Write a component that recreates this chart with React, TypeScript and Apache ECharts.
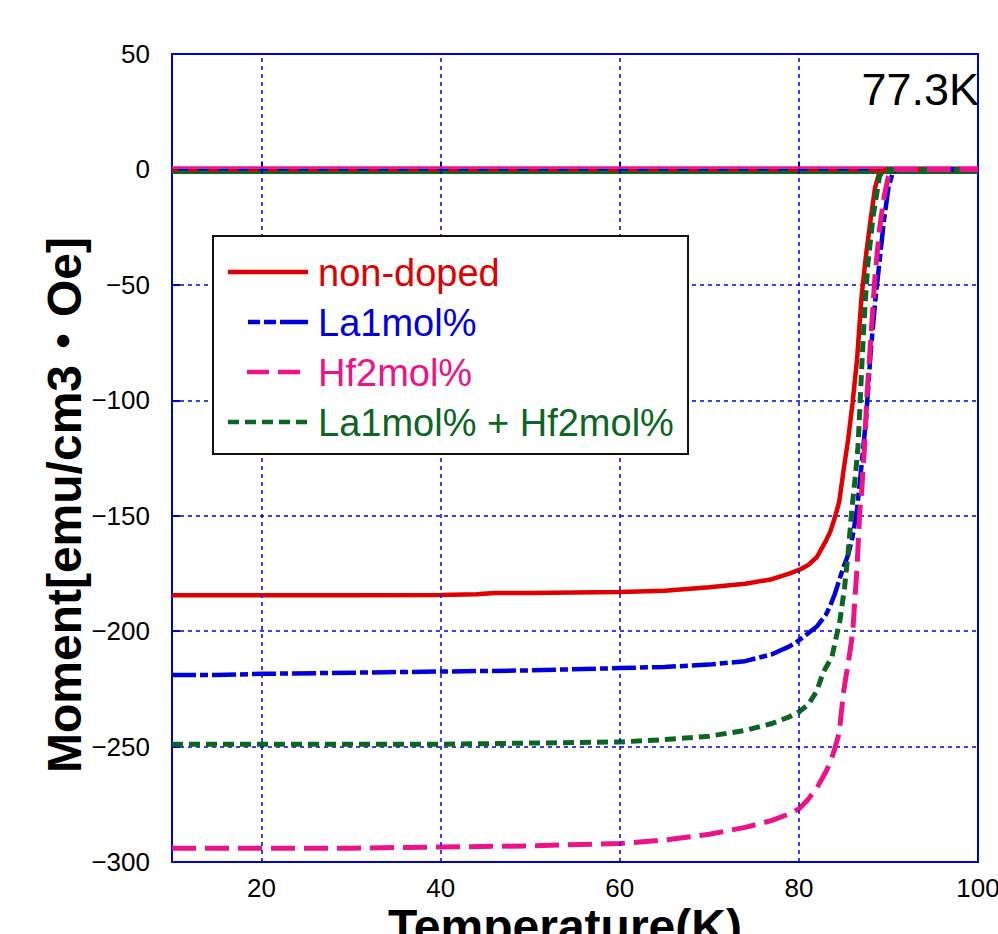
import React, { useEffect, useRef } from "react";
import * as echarts from "echarts";

const FONT = "'Liberation Sans', 'Noto Sans CJK JP', sans-serif";

const seriesNames = ["non-doped", "La1mol%", "Hf2mol%", "La1mol% + Hf2mol%"];
const colors = ["#e00000", "#0000dd", "#ee1289", "#0b6623"];

const tempNonDoped = [10, 20, 30, 40, 44, 46, 50, 60, 65, 70, 74, 77, 79, 80, 81, 82, 83, 83.5, 84, 84.5, 85, 85.5, 86, 86.5, 87, 87.5, 88, 88.5, 89, 90, 100];
const momentNonDoped = [-184.5, -184.5, -184.5, -184.3, -184, -183.5, -183.5, -183, -182.5, -181, -179.5, -177.5, -175, -173.5, -171.5, -168, -161, -157, -151, -144, -130, -117, -101, -82, -55, -37, -22, -8, -1, 0, 0];

const tempLa = [10, 15, 20, 30, 40, 50, 60, 65, 70, 74, 77, 79, 80, 81, 82, 83, 83.5, 84, 84.5, 85, 85.5, 86, 86.5, 87, 87.5, 88, 88.5, 89, 89.5, 90, 90.5, 91, 100];
const momentLa = [-219, -219, -218.5, -218, -217.5, -217, -216, -215.5, -214.5, -213, -210, -206.5, -204, -201, -198, -193, -189, -184, -178, -172, -167, -159, -147, -128, -108, -80, -58, -40, -22, -8, -1, 0, 0];

const tempHf = [10, 20, 30, 40, 50, 60, 65, 70, 74, 77, 79, 80, 81, 82, 83, 83.5, 84, 84.5, 85, 85.5, 86, 86.5, 86.8, 87, 87.3, 87.6, 88, 88.5, 89, 89.5, 90, 90.5, 100];
const momentHf = [-294, -294, -294, -293.5, -293, -292, -290.5, -288, -285, -282, -279, -277, -273, -268, -261, -257, -251, -244, -226, -214, -201, -172, -148, -140, -122, -98, -75, -46, -26, -12, -3, 0, 0];

const tempLaHf = [10, 20, 30, 40, 50, 60, 65, 70, 74, 77, 79, 80, 81, 82, 82.7, 83.7, 84.6, 85.1, 85.5, 85.9, 86.3, 86.6, 86.8, 87, 87.2, 87.4, 87.7, 88.3, 89, 89.5, 100];
const momentLaHf = [-249, -249, -249, -249, -248.5, -248, -247, -245.5, -243, -240, -237, -235, -232, -226, -218, -211, -195, -181, -166, -148, -133, -120, -104, -87, -72, -58, -41, -20, -3, 0, 0];

// near-zero return branch (100 K -> 10 K), one value per series
const returnTemps = [100, 10];
const returnMoments = [-0.5, 0, 0.8, -1.2];

const yTicks = { min: -300, max: 50, interval: 50 };
const xLabelValues = [20, 40, 60, 80, 100];
const xGridValues = [20, 40, 60, 80];

const zip = (t: number[], m: number[]) => t.map((v, i) => [v, m[i]]);

export default function App() {
  const ref = useRef<HTMLDivElement>(null);
  useEffect(() => {
    if (!ref.current) return;
    const chart = echarts.init(ref.current, null, { renderer: "svg" });
    const temps = [tempNonDoped, tempLa, tempHf, tempLaHf];
    const moments = [momentNonDoped, momentLa, momentHf, momentLaHf];
    const dashes: any[] = ["solid", [24, 4, 8, 4], [24, 9], [11, 6]];
    const widths = [4.5, 4.5, 5, 5];
    const order = [0, 1, 3, 2];
    const series: any[] = [];
    // return branches (near zero)
    const retStyles: any[] = [
      { width: 2.5, type: [10, 10] },
      { width: 2, type: "solid" },
      { width: 2.5, type: "solid" },
      { width: 3.5, type: "solid" },
    ];
    [1, 3, 0, 2].forEach((i) => {
      series.push({
        name: seriesNames[i] + " FC",
        type: "line",
        symbol: "none",
        data: zip(returnTemps, [returnMoments[i], returnMoments[i]]),
        lineStyle: { color: colors[i], ...retStyles[i] },
        z: 2,
      });
    });
    order.forEach((i) => {
      series.push({
        name: seriesNames[i],
        type: "line",
        symbol: "none",
        data: zip(temps[i], moments[i]),
        lineStyle: { color: colors[i], width: widths[i], type: dashes[i] },
        itemStyle: { color: colors[i] },
        z: 3,
      });
    });
    series.push({
      name: "grid",
      type: "line",
      data: [],
      silent: true,
      markLine: {
        silent: true,
        symbol: "none",
        label: { show: false },
        lineStyle: { color: "#0000dd", width: 1.5, type: [4, 4] },
        data: xGridValues.map((v) => ({ xAxis: v })),
      },
      z: 1,
    });

    // manual legend
    const legendRows = [272, 322, 372, 422];
    const legendLineStart = [228, 248, 247, 228];
    const legendDash: any[] = [null, [12, 4, 12, 4, 40, 0], [22, 9], [11, 6]];
    const legendGraphics: any[] = [
      {
        type: "rect",
        shape: { x: 213, y: 236, width: 475, height: 218 },
        style: { fill: "#fff", stroke: "#111", lineWidth: 2 },
        z: 20,
      },
    ];
    [0, 1, 2, 3].forEach((i) => {
      legendGraphics.push({
        type: "line",
        shape: { x1: legendLineStart[i], y1: legendRows[i], x2: 308, y2: legendRows[i] },
        style: { stroke: colors[i], lineWidth: 4.5, lineDash: legendDash[i] },
        z: 21,
      });
      legendGraphics.push({
        type: "text",
        x: 318,
        y: legendRows[i] + 1,
        style: { text: seriesNames[i], fill: colors[i], font: `38px ${FONT}`, textAlign: "left", textVerticalAlign: "middle" },
        z: 21,
      });
    });

    chart.setOption({
      animation: false,
      backgroundColor: "#fff",
      grid: {
        left: 172,
        right: 20,
        top: 54,
        bottom: 72,
        containLabel: false,
        outerBoundsMode: "none",
        show: true,
        borderColor: "#0000dd",
        borderWidth: 2,
        backgroundColor: "#fff",
      },
      xAxis: {
        type: "value",
        min: 10,
        max: 100,
        axisLine: { show: true, lineStyle: { color: "#0000dd", width: 2 } },
        axisTick: { show: true, inside: true, length: 8, customValues: xGridValues, lineStyle: { color: "#0000dd", width: 2 } },
        axisLabel: { customValues: xLabelValues, color: "#000", fontSize: 26, fontFamily: FONT, margin: 13 },
        splitLine: { show: false },
      },
      yAxis: {
        type: "value",
        min: yTicks.min,
        max: yTicks.max,
        interval: yTicks.interval,
        axisLine: { show: true, lineStyle: { color: "#0000dd", width: 2 } },
        axisTick: { show: true, inside: true, length: 8, lineStyle: { color: "#0000dd", width: 2 } },
        axisLabel: {
          color: "#000",
          fontSize: 26,
          fontFamily: FONT,
          margin: 22,
          formatter: (v: number) => (v < 0 ? "\u2212" + Math.abs(v) : String(v)),
        },
        splitLine: { show: true, lineStyle: { color: "#0000dd", width: 1.5, type: [4, 4] } },
      },
      graphic: [
        {
          type: "text",
          x: 979,
          y: 89,
          z: 10,
          style: { text: "77.3K", fill: "#000", font: `45px ${FONT}`, textAlign: "right", textVerticalAlign: "middle" },
        },
        {
          type: "text",
          x: 64,
          y: 505,
          rotation: Math.PI / 2,
          style: { text: "Moment[emu/cm3\u30FBOe]", fill: "#000", font: `bold 48px ${FONT}`, textAlign: "center", textVerticalAlign: "middle" },
        },
        {
          type: "text",
          x: 565,
          y: 926,
          style: { text: "Temperature(K)", fill: "#000", font: `bold 48px ${FONT}`, textAlign: "center", textVerticalAlign: "middle" },
        },
        ...legendGraphics,
      ],
      series,
    });
    return () => chart.dispose();
  }, []);
  return <div ref={ref} style={{ position: "absolute", left: 0, top: 0, width: 998, height: 934, background: "#fff" }} />;
}
